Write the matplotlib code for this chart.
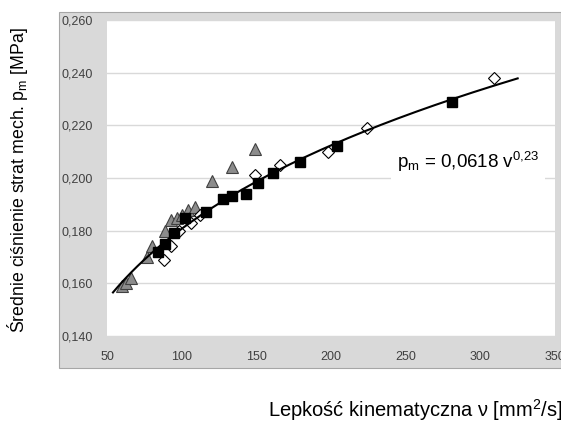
import matplotlib.pyplot as plt
import numpy as np
from matplotlib.patches import Rectangle

plt.rcParams['font.family'] = ['Liberation Sans', 'DejaVu Sans']
plt.rcParams['mathtext.fontset'] = 'custom'
plt.rcParams['mathtext.rm'] = 'Liberation Sans'
plt.rcParams['mathtext.it'] = 'Liberation Sans'

# filled squares
sq_x = [84, 89, 95, 102, 116, 128, 134, 143, 151, 161, 179, 204, 281]
sq_y = [0.172, 0.175, 0.179, 0.185, 0.187, 0.192, 0.193, 0.194, 0.198, 0.202, 0.206, 0.212, 0.229]
# grey triangles
tr_x = [60, 63, 66, 77, 80, 89, 93, 97, 100, 104, 109, 120, 134, 149]
tr_y = [0.159, 0.160, 0.162, 0.170, 0.174, 0.180, 0.184, 0.185, 0.186, 0.188, 0.189, 0.199, 0.204, 0.211]
# open diamonds
di_x = [88, 93, 98, 106, 112, 149, 166, 198, 224, 309]
di_y = [0.169, 0.174, 0.180, 0.183, 0.186, 0.201, 0.205, 0.210, 0.219, 0.238]

# power trend line p = a * v^b (a from label, b)
trend_a = 0.0618
trend_b = 0.233
trend_range = [54, 325]
x_ticks = [50, 100, 150, 200, 250, 300, 350]
y_ticks = [0.140, 0.160, 0.180, 0.200, 0.220, 0.240, 0.260]

xt = np.linspace(trend_range[0], trend_range[1], 200)
yt = trend_a * xt ** trend_b

fig = plt.figure(figsize=(5.61, 4.25), dpi=100)
W, H = 561, 425

# grey chart frame like excel
fig.patches.append(Rectangle((59 / W, 1 - 368 / H), 1 - 59 / W, (368 - 12) / H,
                             transform=fig.transFigure, facecolor='#d9d9d9',
                             edgecolor='#a6a6a6', lw=0.8, zorder=-1))

ax = fig.add_axes([107 / W, 1 - 336 / H, (555 - 107) / W, (336 - 20) / H])
ax.set_zorder(1)
ax.set_facecolor('white')
for s in ax.spines.values():
    s.set_visible(False)

ax.set_xlim(50, 350)
ax.set_ylim(0.140, 0.260)
ax.set_xticks(x_ticks)
ax.set_yticks(y_ticks)
ax.set_xticklabels([str(v) for v in x_ticks])
ax.set_yticklabels([('%.3f' % v).replace('.', ',') for v in y_ticks])
ax.tick_params(length=0, labelsize=9, labelcolor='#404040')
ax.tick_params(axis='y', pad=10)
ax.tick_params(axis='x', pad=11)
ax.grid(axis='y', color='#d9d9d9', lw=1)
ax.set_axisbelow(True)

ax.plot(tr_x, tr_y, linestyle='none', marker='^', ms=8, mfc='#8c8c8c', mec='#404040', mew=0.8)
ax.plot(di_x, di_y, linestyle='none', marker='D', ms=6.5, mfc='white', mec='black', mew=0.8)
ax.plot(sq_x, sq_y, linestyle='none', marker='s', ms=7, mfc='black', mec='black')
ax.plot(xt, yt, color='black', lw=1.5, zorder=5)

ax.text(0.647, 0.551, r'p$_{\mathregular{m}}$ = 0,0618 v$^{\mathregular{0{,}23}}$',
        transform=ax.transAxes, fontsize=13.5, ha='left', va='center',
        bbox=dict(facecolor='white', edgecolor='none', pad=4), zorder=6)

fig.text(18 / W, 1 - 180 / H, r'Średnie ciśnienie strat mech. p$_{\mathregular{m}}$ [MPa]',
         rotation=90, ha='center', va='center', fontsize=12.8)
fig.text(268 / W, 1 - 410 / H, r'Lepkość kinematyczna ν [mm$^{\mathregular{2}}$/s]',
         ha='left', va='center', fontsize=14.5)

fig.savefig('out.png', dpi=100)
